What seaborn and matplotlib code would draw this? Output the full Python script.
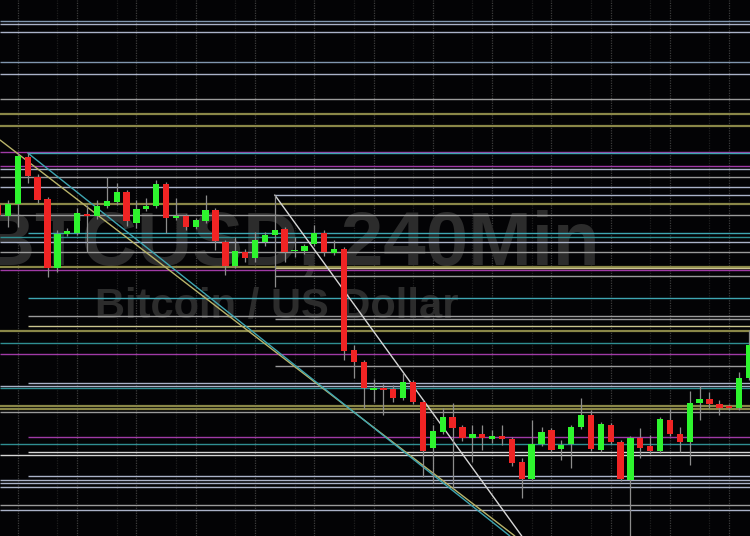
import numpy as np
import pandas as pd
import matplotlib
matplotlib.use("Agg")
import matplotlib.pyplot as plt
import seaborn as sns

# candle data (4h bars)
IDX = list(range(-1, 76))
OPEN = [7590, 7568, 7592, 7686, 7646, 7602, 7464, 7532, 7534, 7572,
        7568, 7588, 7596, 7616, 7554, 7582, 7588, 7632, 7564, 7568,
        7546, 7558, 7580, 7516, 7468, 7496, 7484, 7516, 7530, 7542,
        7498, 7498, 7512, 7534, 7494, 7502, 7300, 7276, 7220, 7224,
        7222, 7204, 7236, 7196, 7104, 7136, 7166, 7146, 7124, 7132,
        7122, 7128, 7122, 7076, 7042, 7112, 7140, 7102, 7112, 7146,
        7170, 7100, 7150, 7116, 7040, 7124, 7108, 7098, 7160, 7132,
        7116, 7194, 7202, 7192, 7188, 7184, 7244]
CLOSE = [7570, 7592, 7688, 7648, 7600, 7464, 7532, 7538, 7574, 7568,
         7588, 7598, 7616, 7558, 7582, 7588, 7632, 7564, 7568, 7546,
         7560, 7580, 7518, 7468, 7498, 7484, 7520, 7530, 7540, 7496,
         7500, 7508, 7534, 7496, 7502, 7298, 7276, 7224, 7224, 7220,
         7204, 7236, 7196, 7098, 7138, 7166, 7144, 7124, 7132, 7124,
         7128, 7122, 7074, 7042, 7112, 7136, 7100, 7110, 7146, 7170,
         7102, 7152, 7116, 7042, 7124, 7104, 7098, 7162, 7132, 7116,
         7194, 7202, 7192, 7184, 7184, 7244, 7310]
HIGH = [7600, 7600, 7694, 7694, 7652, 7606, 7540, 7544, 7584, 7590,
        7600, 7646, 7634, 7620, 7600, 7604, 7640, 7636, 7604, 7572,
        7564, 7610, 7584, 7520, 7526, 7502, 7536, 7536, 7610, 7546,
        7526, 7512, 7550, 7540, 7520, 7506, 7310, 7280, 7242, 7232,
        7230, 7254, 7240, 7200, 7150, 7184, 7194, 7150, 7150, 7150,
        7140, 7150, 7126, 7084, 7160, 7146, 7144, 7120, 7150, 7204,
        7180, 7156, 7154, 7120, 7128, 7144, 7130, 7166, 7184, 7146,
        7218, 7228, 7216, 7200, 7192, 7256, 7340]
LOW = [7564, 7546, 7546, 7634, 7594, 7446, 7456, 7528, 7530, 7496,
       7562, 7584, 7590, 7548, 7544, 7578, 7584, 7534, 7560, 7540,
       7542, 7554, 7500, 7450, 7464, 7476, 7476, 7508, 7426, 7476,
       7486, 7492, 7508, 7488, 7490, 7280, 7244, 7184, 7196, 7170,
       7196, 7200, 7192, 7046, 7034, 7132, 7024, 7118, 7076, 7100,
       7114, 7110, 7068, 7004, 7038, 7108, 7096, 7080, 7064, 7142,
       7098, 7096, 7112, 7038, 6920, 7084, 7092, 7094, 7128, 7096,
       7070, 7160, 7184, 7170, 7180, 7180, 7240]

# horizontal levels drawn on the chart: price, colour key, first bar
LEVEL_PRICE = [7958, 7952, 7936, 7876, 7852, 7802, 7772, 7748, 7696, 7694,
               7668, 7662, 7646, 7626, 7610, 7592, 7570, 7534, 7526, 7516,
               7496, 7466, 7464, 7460, 7448, 7404, 7368, 7362, 7348, 7338,
               7314, 7292, 7268, 7234, 7228, 7224, 7188, 7182, 7176, 7126,
               7112, 7096, 7090, 7048, 7040, 7034, 7026, 6990, 6980]
LEVEL_KIND = ["blue", "lav", "lav", "blue", "lav", "grey", "olive", "olive", "mag", "cyan",
              "mag", "lav", "grey", "lav", "lav", "olive", "grey", "cyan", "teal", "lav",
              "grey", "olive", "cream", "mag", "grey", "cyan", "grey", "grey", "cream", "olive",
              "teal", "mag", "grey", "lav", "lav", "teal", "olive", "olive", "grey", "mag",
              "teal", "white", "white", "lav", "lav", "lav", "lav", "grey", "lav"]
LEVEL_START = [-1, -1, -1, -1, -1, -1, -1, -1, -1, 2,
               -1, -1, -1, -1, 27, -1, -1, 2, -1, -1,
               -1, -1, 27, -1, 27, 2, 2, 27, 2, -1,
               -1, -1, 27, 2, -1, -1, -1, -1, -1, 2,
               -1, 2, -1, 2, -1, -1, -1, -1, -1]

# trend lines: (start bar, start price, end bar, end price)
TREND_X = [[-0.81, 51.3], [2, 50.8], [27, 52.0]]
TREND_Y = [[7720, 6928], [7694, 6928], [7610, 6928]]
TREND_KIND = ["khaki", "cyan", "white"]

COLORS = {
    "blue": "#8096ae", "lav": "#aab2c8", "grey": "#9a9a9a", "white": "#d6d6d6",
    "olive": "#8a8748", "cream": "#c9c48e", "cyan": "#3ea6b2", "teal": "#2f8e92",
    "mag": "#a03aa6", "khaki": "#b9b46a",
}
UP = "#2ef52e"
DOWN = "#f02424"
WICK = "#8c8c8c"
BG = "#030305"

sns.set_theme(style="dark", rc={"axes.facecolor": BG, "figure.facecolor": BG})

fig = plt.figure(figsize=(7.5, 5.36), dpi=100)
ax = fig.add_axes([0, 0, 1, 1])
ax.set_facecolor(BG)

x_left = -0.81
x_right = 75.1
ax.set_xlim(x_left, x_right)
ax.set_ylim(6928, 8000)

# vertical session grid
for i in range(1, 76, 6):
    ax.axvline(i, color="#3c3c3c", lw=0.9, ls=(0, (1, 1)), zorder=0)
for i in range(5, 76, 6):
    ax.axvline(i, color="#1e1e1e", lw=0.9, ls=(0, (1, 1)), zorder=0)

# watermark
ax.text(0.387, 0.5056, "BTCUSD, 240Min", transform=ax.transAxes, ha="center",
        va="baseline", fontsize=55, fontweight="bold", color="#2c2c2c",
        family="Liberation Sans", zorder=1)
ax.text(0.369, 0.4067, "Bitcoin / US Dollar", transform=ax.transAxes, ha="center",
        va="baseline", fontsize=30, fontweight="bold", color="#2c2c2c",
        family="Liberation Sans", zorder=1)

# horizontal levels
for price, kind, start in zip(LEVEL_PRICE, LEVEL_KIND, LEVEL_START):
    x0 = x_left if start < 0 else start
    lw = 1.6 if kind == "olive" else 1.0
    ax.hlines(price, x0, x_right, color=COLORS[kind], lw=lw, zorder=2)

# trend lines
for xs, ys, kind in zip(TREND_X, TREND_Y, TREND_KIND):
    sns.lineplot(x=xs, y=ys, color=COLORS[kind], lw=1.0, ax=ax, zorder=2,
                 sort=False, estimator=None)

# candles
df = pd.DataFrame({"i": IDX, "open": OPEN, "high": HIGH, "low": LOW, "close": CLOSE})
for _, r in df.iterrows():
    col = UP if r["close"] >= r["open"] else DOWN
    ax.vlines(r["i"], r["low"], r["high"], color=WICK, lw=0.9, zorder=3)
    body = max(abs(r["close"] - r["open"]), 3)
    ax.bar(r["i"], body, bottom=min(r["open"], r["close"]), width=0.64,
           color=col, lw=0, zorder=4)

ax.set_xticks([])
ax.set_yticks([])
ax.set_xlabel("")
ax.set_ylabel("")
for s in ax.spines.values():
    s.set_visible(False)

fig.savefig("out.png", dpi=100, facecolor=BG)
